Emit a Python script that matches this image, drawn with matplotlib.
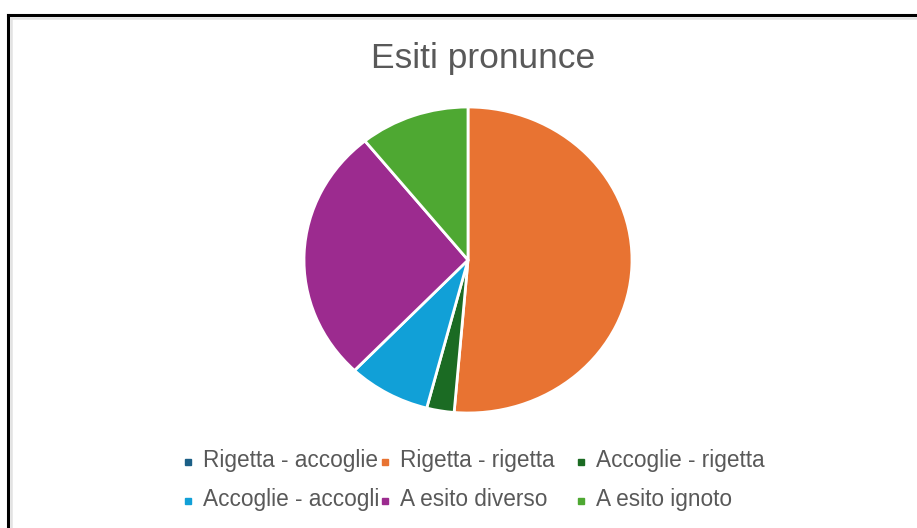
import matplotlib.pyplot as plt
from matplotlib.patches import Rectangle
from matplotlib.lines import Line2D

plt.rcParams['font.family'] = ['Liberation Sans', 'DejaVu Sans']

categorie = ['Rigetta - accoglie', 'Rigetta - rigetta', 'Accoglie - rigetta',
             'Accoglie - accogli', 'A esito diverso', 'A esito ignoto']
valori = [0, 19, 1, 3, 10, 4]
colori = ['#1b5f86', '#e87332', '#1b6b23', '#11a0d7', '#9c2b8f', '#4ea832']

W, H = 917, 528
fig = plt.figure(figsize=(W / 100, H / 100), dpi=100)

# cornice (bordo nero + riga grigia interna)
fig.add_artist(Line2D([8 / W, 8 / W], [0, 1 - 15 / H], color='black', lw=2.2))
fig.add_artist(Line2D([8 / W, 1], [1 - 15 / H, 1 - 15 / H], color='black', lw=2.2))
fig.add_artist(Line2D([11 / W, 11 / W], [0, 1 - 18 / H], color='#e2e2e2', lw=1.8))
fig.add_artist(Line2D([11 / W, 1], [1 - 18 / H, 1 - 18 / H], color='#e2e2e2', lw=1.8))

fig.text(483.5 / W, 1 - 68 / H, 'Esiti pronunce', ha='center', va='baseline',
         fontsize=25.5, color='#595959')

# torta leggermente schiacciata come nell'originale
cx, cy, rx, ry = 468, 260, 164, 153
ax = fig.add_axes([(cx - rx) / W, 1 - (cy + ry) / H, 2 * rx / W, 2 * ry / H])
ax.pie(valori, colors=colori, startangle=90, counterclock=False,
       wedgeprops=dict(edgecolor='white', linewidth=2))
ax.set_aspect('auto')
ax.set_xlim(-1, 1)
ax.set_ylim(-1, 1)

# legenda a colonne fisse
x0, passo = 188, 196.5
righe = [467, 506]  # linee di base del testo
for i, (lab, col) in enumerate(zip(categorie, colori)):
    x = x0 + passo * (i % 3)
    y = righe[i // 3]
    fig.add_artist(Rectangle(((x - 3) / W, 1 - (y - 2) / H), 6 / W, 6 / H,
                             transform=fig.transFigure, color=col))
    fig.text((x + 15) / W, 1 - y / H, lab, ha='left', va='baseline',
             fontsize=16.3, color='#595959')

fig.savefig('out.png', dpi=100)
